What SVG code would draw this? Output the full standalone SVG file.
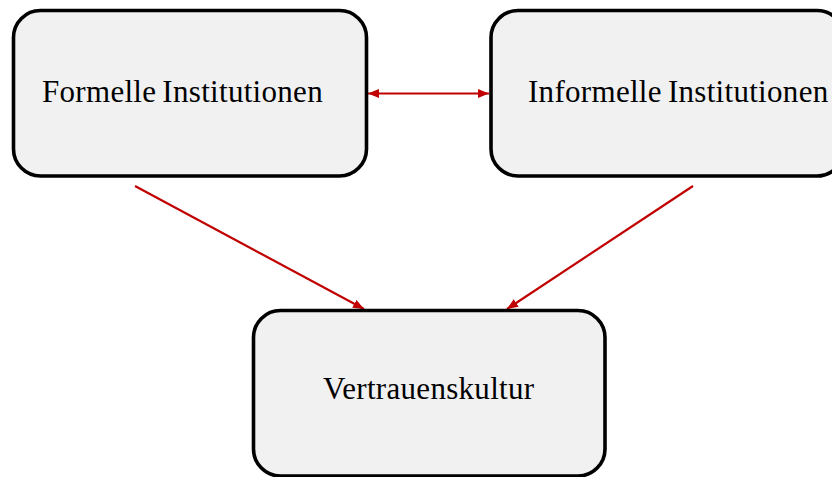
<svg xmlns="http://www.w3.org/2000/svg" width="832" height="477" viewBox="0 0 832 477">
<style>
.box{fill:#f1f1f1;stroke:#000;stroke-width:3.6}
.lbl{font-family:"Liberation Serif","Times New Roman",serif;font-size:31px;fill:#000;letter-spacing:0.3px}
.con{stroke:#c00000;stroke-width:2.2;fill:none}
</style>
<defs>
<marker id="ah" viewBox="0 0 11 9" refX="11" refY="4.5" markerWidth="11" markerHeight="9" markerUnits="userSpaceOnUse" orient="auto-start-reverse">
<path d="M0,0 L11,4.5 L0,9 Z" fill="#c00000"/>
</marker>
</defs>
<rect width="832" height="477" fill="#fff"/>
<g id="connectors">
<line class="con" x1="368" y1="93.5" x2="489" y2="93.5" marker-start="url(#ah)" marker-end="url(#ah)"/>
<line class="con" x1="135" y1="186" x2="364" y2="309" marker-end="url(#ah)"/>
<line class="con" x1="693" y1="186" x2="507" y2="309" marker-end="url(#ah)"/>
</g>
<g id="formelle">
<rect class="box" x="13.5" y="10.5" width="353" height="165.5" rx="27"/>
<text class="lbl" x="42" y="101.5" word-spacing="-2">Formelle Institutionen</text>
</g>
<g id="informelle">
<rect class="box" x="491" y="10.5" width="353" height="165.5" rx="27"/>
<text class="lbl" x="528" y="101.5" word-spacing="-2">Informelle Institutionen</text>
</g>
<g id="vertrauenskultur">
<rect class="box" x="253.5" y="310.5" width="351.5" height="165.5" rx="27"/>
<text class="lbl" x="323" y="398.5" letter-spacing="0">Vertrauenskultur</text>
</g>
</svg>
